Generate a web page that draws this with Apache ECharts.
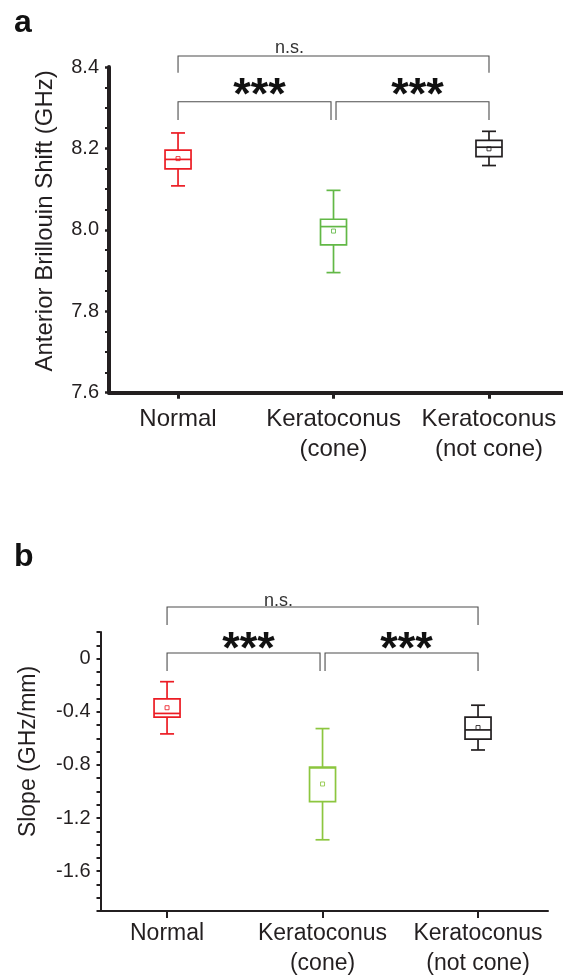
<!DOCTYPE html>
<html>
<head>
<meta charset="utf-8">
<script src="https://cdn.jsdelivr.net/npm/echarts@6/dist/echarts.min.js"></script>
<style>
html,body{margin:0;padding:0;background:#fff;}
#chart{width:563px;height:979px;}
</style>
</head>
<body>
<div id="chart"></div>
<script>
// ---------- data ----------
const categories = ['Normal', 'Keratoconus\n(cone)', 'Keratoconus\n(not cone)'];

// Panel a: Anterior Brillouin shift (GHz)
const shiftMin    = [8.108, 7.895, 8.158];
const shiftQ1     = [8.150, 7.963, 8.180];
const shiftMedian = [8.173, 8.008, 8.203];
const shiftQ3     = [8.196, 8.026, 8.220];
const shiftMax    = [8.238, 8.097, 8.242];
const shiftMean   = [8.175, 7.997, 8.199];

// Panel b: Slope (GHz/mm)
const slopeMin    = [-0.567, -1.364, -0.688];
const slopeQ1     = [-0.440, -1.076, -0.606];
const slopeMedian = [-0.413, -0.823, -0.537];
const slopeQ3     = [-0.303, -0.817, -0.440];
const slopeMax    = [-0.174, -0.527, -0.351];
const slopeMean   = [-0.370, -0.944, -0.519];

// significance comparisons (1-based category positions)
const sigPairs  = [[1, 2], [2, 3], [1, 3]];
const sigLabels = ['***', '***', 'n.s.'];

// ---------- styles ----------
const FONT = 'Liberation Sans, Arial, Helvetica, sans-serif';
const colorsA = ['#ec1c24', '#62b846', '#231f20'];
const colorsB = ['#ec1c24', '#8cc63f', '#231f20'];
const INK = '#231f20';

function buildBoxData(mn, q1, md, q3, mx, mean) {
  return categories.map((c, i) => [i + 1, mn[i], q1[i], md[i], q3[i], mx[i], mean[i]]);
}

function makeBoxRender(colors) {
  return function (params, api) {
    const x = api.value(0);
    const lo = api.coord([x, api.value(1)]);
    const q1 = api.coord([x, api.value(2)]);
    const md = api.coord([x, api.value(3)]);
    const q3 = api.coord([x, api.value(4)]);
    const hi = api.coord([x, api.value(5)]);
    const mean = api.coord([x, api.value(6)]);
    const cx = lo[0];
    const hw = 13, cw = 7, lw = 1.7;
    const col = colors[params.dataIndex];
    const st = { stroke: col, lineWidth: lw, fill: null };
    return {
      type: 'group',
      children: [
        { type: 'line', shape: { x1: cx, y1: hi[1], x2: cx, y2: q3[1] }, style: st },
        { type: 'line', shape: { x1: cx, y1: q1[1], x2: cx, y2: lo[1] }, style: st },
        { type: 'line', shape: { x1: cx - cw, y1: hi[1], x2: cx + cw, y2: hi[1] }, style: st },
        { type: 'line', shape: { x1: cx - cw, y1: lo[1], x2: cx + cw, y2: lo[1] }, style: st },
        { type: 'rect', shape: { x: cx - hw, y: q3[1], width: 2 * hw, height: q1[1] - q3[1] }, style: st },
        { type: 'line', shape: { x1: cx - hw, y1: md[1], x2: cx + hw, y2: md[1] }, style: st },
        { type: 'rect', shape: { x: cx - 2, y: mean[1] - 2, width: 4, height: 4 }, style: { stroke: col, lineWidth: 1, fill: null, opacity: 0.85 } }
      ]
    };
  };
}

// layout of significance brackets relative to grid top (pixels)
function makeBracketRender(L) {
  return function (params, api) {
    const top = params.coordSys.y;
    const i = params.dataIndex;
    const a = api.coord([api.value(0), 0])[0];
    const b = api.coord([api.value(1), 0])[0];
    const outer = (api.value(1) - api.value(0)) > 1;
    const st = { stroke: '#4d4d4d', lineWidth: 1.1, fill: null };
    let x1 = a, x2 = b, yl, yd, tx, ty, font;
    if (outer) {
      yl = top + L.outerLine; yd = top + L.outerDrop;
      tx = (a + b) / 2 + L.nsDx; ty = top + L.nsY;
      font = '18px ' + FONT;
    } else {
      if (api.value(0) > 1.5) x1 = a + 2.5; else x2 = b - 2.5;
      yl = top + L.innerLine; yd = top + L.innerDrop;
      tx = (x1 + x2) / 2 + L.starDx; ty = top + L.starY;
      font = 'bold 45px ' + FONT;
    }
    return {
      type: 'group',
      children: [
        { type: 'polyline', shape: { points: [[x1, yd], [x1, yl], [x2, yl], [x2, yd]] }, style: st },
        { type: 'text', x: tx, y: ty, style: { text: sigLabels[i], font: font, fill: outer ? '#333' : '#111', align: 'center', verticalAlign: 'middle' } }
      ]
    };
  };
}

const layoutA = { outerLine: -11, outerDrop: 5.7, innerLine: 34.7, innerDrop: 53, starY: 30, starDx: 5, nsY: -19, nsDx: -44 };
const layoutB = { outerLine: -25, outerDrop: -7, innerLine: 21, innerDrop: 39, starY: 19, starDx: 5, nsY: -31, nsDx: -44 };

const chart = echarts.init(document.getElementById('chart'), null, { renderer: 'canvas' });

function labelFmt(v) { return categories[Math.round(v) - 1] || ''; }

const option = {
  animation: false,
  backgroundColor: '#fff',
  title: [
    { text: 'a', left: 9, top: 2, textStyle: { fontFamily: FONT, fontSize: 32, fontWeight: 'bold', color: '#111' } },
    { text: 'b', left: 9, top: 536, textStyle: { fontFamily: FONT, fontSize: 32, fontWeight: 'bold', color: '#111' } }
  ],
  grid: [
    { left: 109, top: 67, width: 454, height: 325.7 },
    { left: 100.5, top: 632, width: 447.5, height: 281 }
  ],
  xAxis: [
    {
      gridIndex: 0, type: 'value', min: 0.556, max: 3.476,
      axisLine: { show: true, onZero: false, lineStyle: { color: INK, width: 4 } },
      axisTick: { show: true, customValues: [1, 2, 3], length: 6, lineStyle: { color: INK, width: 3 } },
      axisLabel: { customValues: [1, 2, 3], formatter: labelFmt, margin: 12, fontFamily: FONT, fontSize: 24, lineHeight: 30, color: INK },
      splitLine: { show: false }
    },
    {
      gridIndex: 1, type: 'value', min: 0.572, max: 3.450,
      axisLine: { show: true, onZero: false, lineStyle: { color: INK, width: 2 } },
      axisTick: { show: true, customValues: [1, 2, 3], length: 7, lineStyle: { color: INK, width: 2 } },
      axisLabel: { customValues: [1, 2, 3], formatter: labelFmt, margin: 8, fontFamily: FONT, fontSize: 23, lineHeight: 30, color: INK },
      splitLine: { show: false }
    }
  ],
  yAxis: [
    {
      gridIndex: 0, type: 'value', min: 7.6, max: 8.4, interval: 0.2,
      name: 'Anterior Brillouin Shift (GHz)', nameLocation: 'middle', nameGap: 52,
      nameTextStyle: { fontFamily: FONT, fontSize: 24, color: INK, padding: [0, 0, 0, 18] },
      axisLine: { show: true, onZero: false, lineStyle: { color: INK, width: 4 } },
      axisTick: { show: true, length: 4, lineStyle: { color: INK, width: 2.5 } },
      minorTick: { show: true, splitNumber: 4, length: 4, lineStyle: { color: INK, width: 2 } },
      axisLabel: { margin: 10, fontFamily: FONT, fontSize: 20, color: INK, formatter: v => v.toFixed(1) },
      splitLine: { show: false }, minorSplitLine: { show: false }
    },
    {
      gridIndex: 1, type: 'value', min: -1.9, max: 0.2, interval: 0.1,
      name: 'Slope (GHz/mm)', nameLocation: 'middle', nameGap: 60,
      nameTextStyle: { fontFamily: FONT, fontSize: 23, color: INK, padding: [0, 0, 0, 40] },
      axisLine: { show: true, onZero: false, lineStyle: { color: INK, width: 2 } },
      axisTick: { show: true, length: 4, lineStyle: { color: INK, width: 2 } },
      axisLabel: {
        margin: 10, fontFamily: FONT, fontSize: 20, color: INK,
        formatter: function (v) {
          const k = v / 0.4;
          if (Math.abs(k - Math.round(k)) > 1e-6) return '';
          const r = Math.round(v * 10) / 10;
          return r === 0 ? '0' : String(r);
        }
      },
      splitLine: { show: false }
    }
  ],
  series: [
    {
      type: 'custom', xAxisIndex: 0, yAxisIndex: 0, silent: true,
      renderItem: makeBoxRender(colorsA),
      encode: { x: 0, y: [1, 2, 3, 4, 5] },
      data: buildBoxData(shiftMin, shiftQ1, shiftMedian, shiftQ3, shiftMax, shiftMean)
    },
    {
      type: 'custom', xAxisIndex: 1, yAxisIndex: 1, silent: true,
      renderItem: makeBoxRender(colorsB),
      encode: { x: 0, y: [1, 2, 3, 4, 5] },
      data: buildBoxData(slopeMin, slopeQ1, slopeMedian, slopeQ3, slopeMax, slopeMean)
    },
    {
      type: 'custom', xAxisIndex: 0, yAxisIndex: 0, silent: true, clip: false,
      renderItem: makeBracketRender(layoutA),
      encode: { x: [0, 1] },
      data: sigPairs
    },
    {
      type: 'custom', xAxisIndex: 1, yAxisIndex: 1, silent: true, clip: false,
      renderItem: makeBracketRender(layoutB),
      encode: { x: [0, 1] },
      data: sigPairs
    }
  ]
};
chart.setOption(option);
</script>
</body>
</html>
